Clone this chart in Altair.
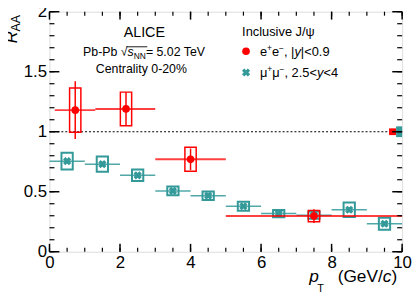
import altair as alt
import pandas as pd

# ---------------- data ----------------
# Inclusive J/psi, e+e-, |y|<0.9
ee_pt = [0.73, 2.17, 4.0, 7.5]
ee_lo = [0.15, 1.3, 3.0, 5.0]
ee_hi = [1.3, 3.0, 5.0, 10.0]
ee_raa = [1.18, 1.19, 0.77, 0.297]
ee_stat = [0.24, 0.14, 0.09, 0.058]
ee_syst = [0.185, 0.14, 0.10, 0.047]

# Inclusive J/psi, mu+mu-, 2.5<y<4
mm_pt = [0.5, 1.5, 2.5, 3.5, 4.5, 5.5, 6.5, 7.5, 8.5, 9.5]
mm_lo = [0, 1, 2, 3, 4, 5, 6, 7, 8, 9]
mm_hi = [1, 2, 3, 4, 5, 6, 7, 8, 9, 10]
mm_raa = [0.755, 0.73, 0.637, 0.507, 0.467, 0.379, 0.318, 0.305, 0.35, 0.233]
mm_stat = [0.02, 0.02, 0.015, 0.012, 0.012, 0.012, 0.012, 0.015, 0.02, 0.02]
mm_syst = [0.07, 0.064, 0.048, 0.036, 0.035, 0.037, 0.03, 0.03, 0.06, 0.05]

# global uncertainties (boxes at unity)
glob_series = ["ee", "mm"]
glob_x1 = [9.63, 9.83]
glob_x2 = [9.83, 10.0]
glob_unc = [0.028, 0.045]

x_major = [0, 2, 4, 6, 8, 10]
y_major = [0, 0.5, 1, 1.5, 2]
x_minor = [v / 2 for v in range(0, 21)]
y_minor = [v / 10 for v in range(0, 21)]

# ---------------- styling ----------------
W, H = 357, 243
FONT = "Liberation Sans"
RED = "#ff0000"
TEAL = "#339999"
BOXW = 0.16

XS = alt.Scale(domain=[0, 10], nice=False, zero=False)
YS = alt.Scale(domain=[0, 2], nice=False, zero=False)
XAX = alt.Axis(values=x_major, title=None, ticks=False, domain=False, grid=False, format="d",
               labelFlush=False, labelOverlap=False, labelPadding=3,
               labelFontSize=17, labelFont=FONT, labelColor="black")
YAX = alt.Axis(values=y_major, title=None, ticks=False, domain=False, grid=False, format="~g",
               labelFlush=False, labelOverlap=False, labelPadding=3,
               labelFontSize=17, labelFont=FONT, labelColor="black")


def X(f):
    return alt.X(f, scale=XS, axis=XAX)


def Y(f):
    return alt.Y(f, scale=YS, axis=YAX)


ee = pd.DataFrame(dict(pt=ee_pt, lo=ee_lo, hi=ee_hi, raa=ee_raa, stat=ee_stat, syst=ee_syst))
mm = pd.DataFrame(dict(pt=mm_pt, lo=mm_lo, hi=mm_hi, raa=mm_raa, stat=mm_stat, syst=mm_syst))
gl = pd.DataFrame(dict(s=glob_series, x1=glob_x1, x2=glob_x2, u=glob_unc))


def series_layers(df, color, marker, line_w, line_op, box_w):
    base = alt.Chart(df).transform_calculate(
        bx1=f"datum.pt - {BOXW}", bx2=f"datum.pt + {BOXW}",
        by1="datum.raa - datum.syst", by2="datum.raa + datum.syst",
        sy1="datum.raa - datum.stat", sy2="datum.raa + datum.stat")
    hbar = base.mark_rule(color=color, strokeWidth=line_w, opacity=line_op).encode(
        x=X("lo:Q"), x2="hi:Q", y=Y("raa:Q"))
    vbar = base.mark_rule(color=color, strokeWidth=1.5).encode(
        x=X("pt:Q"), y=Y("sy1:Q"), y2="sy2:Q")
    box = base.mark_rect(fill="white", fillOpacity=0, stroke=color, strokeWidth=box_w).encode(
        x=X("bx1:Q"), x2="bx2:Q", y=Y("by1:Q"), y2="by2:Q")
    pts = base.mark_point(**marker).encode(x=X("pt:Q"), y=Y("raa:Q"))
    return [hbar, vbar, box, pts]


red_marker = dict(shape="circle", filled=True, size=60, color=RED, opacity=1)
teal_marker = dict(shape="cross", angle=45, filled=True, size=70, color=TEAL, opacity=1)

layers = []

# dotted line at unity
unity = pd.DataFrame(dict(y=[1.0], a=[0.0], b=[10.0]))
layers.append(alt.Chart(unity).mark_rule(color="black", strokeWidth=1.2, strokeDash=[2, 2]).encode(
    x=X("a:Q"), x2="b:Q", y=Y("y:Q")))

layers += series_layers(mm, TEAL, teal_marker, 1.5, 0.85, 2)
layers += series_layers(ee, RED, red_marker, 2, 0.75, 1.5)

# global boxes
glc = alt.Chart(gl).transform_calculate(y1="1 - datum.u", y2="1 + datum.u")
layers.append(glc.mark_rect(opacity=1).encode(
    x=X("x1:Q"), x2="x2:Q", y=Y("y1:Q"), y2="y2:Q",
    color=alt.Color("s:N", scale=alt.Scale(domain=glob_series, range=[RED, TEAL]), legend=None)))

# inside ticks
def ticks(vals, axis, length, w):
    df = pd.DataFrame(dict(v=vals))
    c = alt.Chart(df).mark_rule(color="black", strokeWidth=w)
    if axis == "x":
        return [c.encode(x=X("v:Q"), y=alt.value(H), y2=alt.value(H - length)),
                c.encode(x=X("v:Q"), y=alt.value(0), y2=alt.value(length))]
    return [c.encode(y=Y("v:Q"), x=alt.value(0), x2=alt.value(length)),
            c.encode(y=Y("v:Q"), x=alt.value(W), x2=alt.value(W - length))]


layers += ticks(x_minor, "x", 4, 1.2)
layers += ticks(x_major, "x", 8, 1.5)
layers += ticks(y_minor, "y", 5, 1.2)
layers += ticks(y_major, "y", 10, 1.5)

# ---------------- text ----------------
ONE = pd.DataFrame(dict(a=[0]))
WID = {" ": 278, "%": 889, "(": 333, ")": 333, "+": 584, ",": 278, "-": 333, ".": 278, "/": 278,
       "<": 584, "=": 584, "|": 260, "−": 584, "μ": 576, "ψ": 712, "√": 549,
       "A": 667, "C": 722, "E": 667, "G": 778, "I": 278, "J": 500, "L": 556, "N": 722,
       "P": 667, "T": 611, "V": 667, "a": 556, "b": 556, "c": 500, "e": 556, "i": 222,
       "l": 222, "n": 556, "p": 556, "r": 333, "s": 500, "t": 278, "u": 556, "v": 500, "y": 500}


def twidth(t, size):
    return sum(WID.get(ch, 556) for ch in t) * size / 1000.0


def text_at(t, x, y, size, italic=False, align="left", angle=0):
    kw = dict(text=t, fontSize=size, font=FONT, color="black", align=align,
              baseline="alphabetic", fontStyle="italic" if italic else "normal")
    if angle:
        kw["angle"] = angle
    return alt.Chart(ONE).mark_text(**kw).encode(x=alt.value(x), y=alt.value(y))


def seq(segs, x, y):
    out = []
    for t, size, italic, dy in segs:
        out.append(text_at(t, x, y + dy, size, italic))
        x += twidth(t, size)
    return out


layers.append(text_at("ALICE", 96, 26, 14.5, align="center"))
layers += seq([("Pb-Pb ", 12.5, False, 0), ("√", 12.5, False, 0), ("s", 12.5, True, 0),
               ("NN", 8.5, False, 3), (" = 5.02 TeV", 12.5, False, 0)], 34, 45)
root_df = pd.DataFrame(dict(a=[0]))
layers.append(alt.Chart(root_df).mark_rule(color="black", strokeWidth=0.9).encode(
    x=alt.value(78), x2=alt.value(99), y=alt.value(35.5)))
layers.append(text_at("Centrality 0-20%", 93, 62.5, 12.5, align="center"))

layers.append(text_at("Inclusive J/ψ", 195, 25, 13))
layers.append(alt.Chart(ONE).mark_point(**red_marker).encode(x=alt.value(199), y=alt.value(40)))
layers.append(alt.Chart(ONE).mark_point(**teal_marker).encode(x=alt.value(199), y=alt.value(61.5)))
layers += seq([("e", 13, False, 0), ("+", 8.5, False, -5), ("e", 13, False, 0), ("−", 8.5, False, -5),
               (", |", 13, False, 0), ("y", 13, True, 0), ("|<0.9", 13, False, 0)], 213, 44.5)
layers += seq([("μ", 13, False, 0), ("+", 8.5, False, -5), ("μ", 13, False, 0), ("−", 8.5, False, -5),
               (", 2.5<", 13, False, 0), ("y", 13, True, 0), ("<4", 13, False, 0)], 213, 66)

# axis titles
TY = 274
layers.append(text_at("p", 263, TY, 17.5, italic=True))
layers.append(text_at("T", 271, TY + 10, 11))
layers.append(text_at(")", 352, TY, 17.5, align="right"))
layers.append(text_at("c", 352 - twidth(")", 17.5), TY, 17.5, italic=True, align="right"))
layers.append(text_at("(GeV/", 352 - twidth(")", 17.5) - twidth("c", 17.5), TY, 17.5, align="right"))

layers.append(text_at("R", -33, 32, 17, italic=True, angle=270))
layers.append(text_at("AA", -29.5, 20, 12.5, angle=270))

chart = alt.layer(*layers).properties(
    width=W, height=H,
    padding={"left": 42, "top": 2, "right": 10, "bottom": 40},
    autosize=alt.AutoSizeParams(type="none"),
).configure_view(stroke="black", strokeWidth=2).configure(background="white")

chart.save("out.html", embed_options={"renderer": "svg", "actions": False})
